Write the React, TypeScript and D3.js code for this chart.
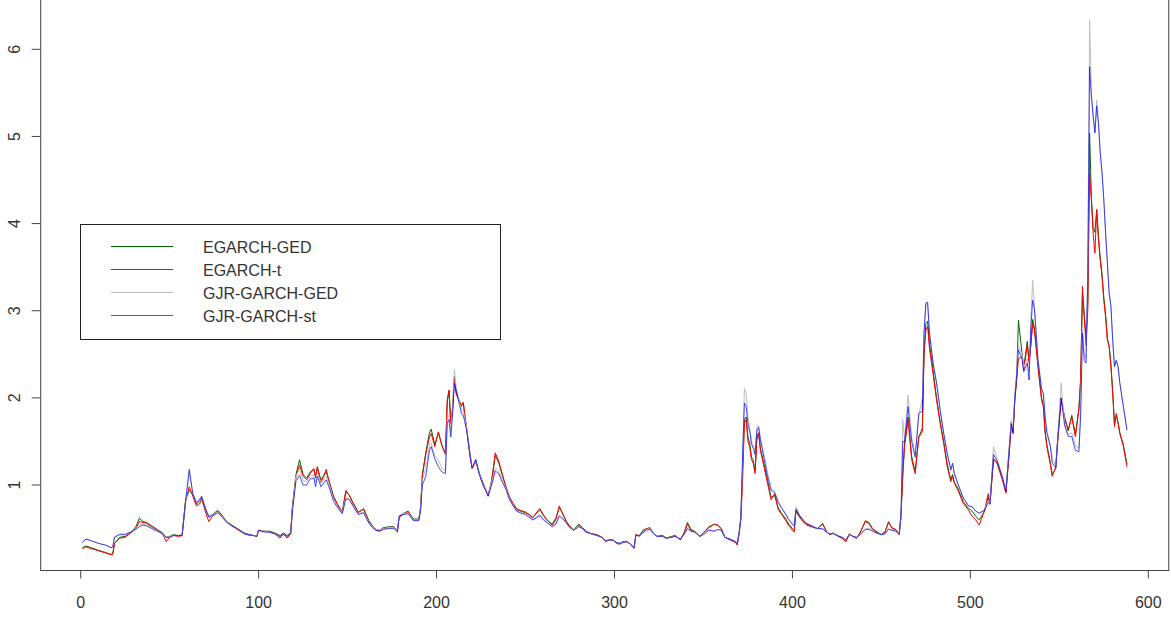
import React from "react";
import * as d3 from "d3";

const idx = [
  1,3,6,10,14,17,18,19,22,25,
  28,31,33,35,37,40,43,46,48,50,
  52,55,57,59,61,63,65,67,68,70,
  72,74,77,80,82,85,88,92,95,97,
  99,100,103,106,109,112,114,116,118,119,
  121,123,125,127,129,131,132,133,135,138,
  140,142,144,147,149,151,153,156,159,162,
  164,166,168,170,173,176,178,179,181,184,
  187,190,191,192,194,196,197,199,201,203,
  205,206,207,208,209,210,211,212,214,215,
  217,219,220,222,224,226,228,229,231,233,
  235,237,239,241,243,245,247,250,252,254,
  256,258,260,262,265,267,269,271,273,275,
  277,280,282,284,287,290,293,295,297,299,
  301,303,305,307,309,311,312,314,316,318,
  320,322,324,327,329,332,334,337,339,341,
  343,345,348,350,353,356,358,360,362,365,
  368,369,370,371,372,373,374,375,376,377,
  378,379,380,381,382,384,386,388,390,392,
  394,396,398,400,401,402,404,406,408,411,
  414,417,419,421,423,426,428,430,432,434,
  436,438,441,443,445,447,450,452,454,456,
  458,460,461,462,463,465,467,469,471,473,
  474,475,476,477,479,481,483,485,487,489,
  490,491,493,496,499,501,503,505,508,510,
  511,513,515,518,520,522,523,524,525,526,
  527,529,530,532,533,534,535,536,538,540,
  541,542,543,545,546,548,549,551,553,555,
  557,559,561,562,563,564,565,566,567,568,
  569,570,571,572,573,574,575,576,577,578,
  579,580,581,582,583,584,586,588,
];

const egarchT = [
  .27,.29,.27,.245,.22,.20,.20,.33,.39,.40,
  .45,.50,.58,.57,.56,.52,.48,.44,.35,.40,
  .42,.41,.42,.83,.98,.87,.76,.79,.84,.70,
  .58,.64,.70,.63,.58,.53,.49,.44,.42,.42,
  .41,.48,.47,.46,.44,.39,.44,.39,.44,.75,
  1.10,1.23,1.10,1.06,1.13,1.19,1.08,1.21,1.02,1.18,
  1.00,.86,.79,.68,.94,.88,.79,.68,.73,.58,
  .52,.48,.47,.50,.51,.52,.47,.63,.66,.69,
  .60,.60,.72,1.10,1.36,1.55,1.59,1.44,1.61,1.45,
  1.35,1.98,2.09,1.70,1.85,2.20,2.05,2.00,1.90,1.95,
  1.62,1.30,1.19,1.27,1.13,1.02,.92,.88,1.06,1.37,
  1.27,1.12,.98,.86,.79,.73,.71,.69,.66,.62,
  .68,.73,.66,.60,.54,.60,.76,.66,.58,.52,
  .48,.54,.50,.46,.44,.43,.40,.35,.37,.37,
  .33,.32,.35,.35,.32,.27,.43,.41,.47,.50,
  .50,.44,.41,.42,.39,.40,.42,.37,.45,.55,
  .48,.46,.41,.45,.51,.55,.54,.50,.40,.37,
  .34,.31,.44,.60,1.05,1.71,1.75,1.50,1.44,1.29,
  1.25,1.13,1.52,1.59,1.40,1.21,1.02,.83,.90,.72,
  .66,.60,.53,.48,.46,.72,.64,.58,.54,.52,
  .50,.56,.47,.43,.45,.41,.39,.35,.44,.41,
  .39,.45,.58,.56,.49,.46,.43,.46,.58,.50,
  .49,.43,.64,1.10,1.44,1.75,1.29,1.13,1.55,1.61,
  2.50,2.78,2.82,2.57,2.28,1.975,1.71,1.48,1.21,1.04,
  1.10,1.02,.94,.79,.71,.64,.60,.54,.71,.90,
  .79,1.29,1.25,1.06,.905,1.40,1.71,1.59,1.975,2.20,
  2.45,2.47,2.32,2.61,2.40,2.60,2.85,2.78,2.36,1.975,
  1.90,1.60,1.44,1.23,1.10,1.21,1.48,1.975,1.78,1.63,
  1.78,1.555,1.86,2.24,3.28,2.93,2.60,3.01,4.58,4.27,
  3.89,3.66,4.16,3.81,3.58,3.39,3.12,2.93,2.66,2.59,
  2.36,2.05,1.67,1.82,1.71,1.59,1.44,1.21,
];

const egarchGed = [
  .28,.30,.28,.25,.225,.205,.21,.33,.40,.41,
  .45,.52,.62,.58,.57,.53,.49,.45,.40,.41,
  .43,.42,.43,.83,.94,.89,.78,.82,.86,.74,
  .64,.66,.71,.64,.58,.54,.50,.45,.43,.42,
  .42,.48,.47,.47,.45,.42,.45,.42,.45,.75,
  1.12,1.29,1.12,1.08,1.15,1.18,1.10,1.20,1.06,1.15,
  1.02,.88,.79,.69,.92,.88,.80,.69,.72,.59,
  .53,.49,.48,.51,.52,.52,.47,.64,.67,.70,
  .61,.61,.74,1.12,1.38,1.60,1.64,1.46,1.60,1.46,
  1.36,1.95,2.08,1.72,1.88,2.25,2.07,2.00,1.92,1.94,
  1.63,1.32,1.20,1.29,1.14,1.03,.93,.87,1.04,1.34,
  1.25,1.11,.97,.86,.78,.72,.70,.68,.66,.63,
  .67,.72,.65,.60,.55,.62,.74,.67,.58,.52,
  .49,.55,.51,.47,.44,.43,.40,.36,.37,.37,
  .34,.33,.35,.35,.32,.28,.43,.42,.48,.50,
  .51,.44,.41,.42,.39,.41,.42,.37,.44,.57,
  .49,.47,.41,.45,.52,.55,.54,.50,.40,.37,
  .35,.32,.44,.62,1.21,1.75,1.78,1.55,1.48,1.32,
  1.28,1.16,1.55,1.60,1.42,1.24,1.05,.86,.88,.74,
  .67,.62,.55,.50,.48,.70,.63,.58,.55,.52,
  .50,.55,.47,.43,.45,.41,.39,.35,.44,.41,
  .39,.45,.59,.57,.50,.47,.43,.46,.57,.51,
  .49,.43,.64,1.12,1.48,1.78,1.33,1.15,1.55,1.65,
  2.55,2.85,2.88,2.62,2.32,2.00,1.73,1.50,1.24,1.06,
  1.12,1.03,.96,.81,.73,.70,.64,.60,.70,.86,
  .78,1.30,1.26,1.07,.92,1.45,1.72,1.62,2.00,2.22,
  2.89,2.52,2.35,2.65,2.42,2.62,2.90,2.80,2.38,2.00,
  1.92,1.62,1.46,1.25,1.12,1.19,1.50,2.00,1.76,1.62,
  1.80,1.58,1.88,2.20,3.20,2.95,2.70,3.10,5.04,4.30,
  3.95,3.90,4.16,3.85,3.60,3.42,3.15,2.95,2.68,2.60,
  2.38,2.08,1.70,1.80,1.72,1.60,1.46,1.24,
];

const gjrGed = [
  .35,.38,.36,.33,.31,.285,.29,.41,.44,.44,
  .46,.50,.54,.55,.54,.51,.475,.44,.40,.41,
  .42,.42,.43,.80,1.15,.90,.80,.83,.87,.74,
  .64,.66,.69,.63,.58,.53,.50,.44,.43,.42,
  .42,.49,.47,.46,.44,.41,.43,.41,.44,.72,
  1.10,1.18,1.05,1.04,1.10,1.12,1.03,1.14,1.02,1.10,
  .98,.84,.76,.68,.86,.84,.77,.67,.69,.57,
  .52,.49,.48,.50,.51,.51,.47,.65,.67,.68,
  .60,.60,.72,1.05,1.20,1.45,1.48,1.33,1.28,1.20,
  1.16,1.75,1.80,1.62,1.90,2.33,2.12,2.03,1.86,1.85,
  1.65,1.34,1.21,1.28,1.13,1.01,.93,.89,1.03,1.19,
  1.16,1.05,.96,.84,.77,.70,.69,.67,.64,.60,
  .63,.66,.61,.58,.52,.56,.66,.62,.56,.51,
  .49,.53,.50,.46,.44,.42,.40,.36,.37,.37,
  .34,.33,.34,.35,.32,.28,.42,.42,.46,.49,
  .50,.44,.41,.41,.39,.40,.41,.38,.43,.50,
  .47,.46,.41,.44,.49,.47,.49,.48,.40,.38,
  .35,.33,.45,.63,1.30,2.11,2.05,1.78,1.65,1.50,
  1.45,1.38,1.67,1.68,1.55,1.35,1.15,.96,.93,.82,
  .74,.68,.61,.55,.53,.75,.66,.60,.56,.53,
  .50,.49,.46,.44,.45,.42,.40,.37,.44,.41,
  .40,.43,.50,.50,.48,.45,.43,.44,.50,.48,
  .47,.44,.66,1.75,1.52,2.03,1.55,1.35,1.80,2.00,
  2.80,3.10,3.05,2.78,2.42,2.18,1.88,1.61,1.37,1.18,
  1.24,1.14,1.02,.86,.76,.75,.70,.68,.72,.82,
  .78,1.44,1.30,1.10,.95,1.50,1.75,1.65,2.05,2.30,
  2.60,2.50,2.35,2.45,2.30,2.90,3.35,3.05,2.45,2.12,
  2.05,1.80,1.62,1.45,1.30,1.22,1.52,2.17,1.70,1.58,
  1.60,1.45,1.42,1.90,2.80,2.50,2.45,3.50,6.34,5.50,
  5.25,5.05,5.42,5.15,4.82,4.58,4.28,3.90,3.55,3.22,
  3.05,2.66,2.36,2.43,2.36,2.17,1.90,1.63,
];

const gjrSt = [
  .34,.38,.36,.33,.31,.28,.29,.40,.43,.43,
  .46,.49,.52,.54,.53,.50,.47,.44,.40,.40,
  .42,.42,.42,.82,1.18,.90,.80,.84,.87,.73,
  .63,.65,.68,.62,.57,.53,.50,.44,.43,.42,
  .41,.48,.46,.46,.44,.41,.43,.41,.44,.70,
  1.05,1.11,1.00,1.00,1.07,1.08,.98,1.10,.98,1.06,
  .95,.82,.75,.67,.84,.83,.76,.66,.68,.56,
  .51,.48,.47,.49,.50,.50,.46,.64,.66,.67,
  .59,.59,.70,1.00,1.10,1.40,1.44,1.30,1.21,1.15,
  1.13,1.71,1.75,1.55,1.80,2.17,2.09,2.00,1.82,1.80,
  1.62,1.32,1.19,1.29,1.12,1.00,.92,.88,1.00,1.16,
  1.13,1.03,.95,.83,.76,.70,.68,.66,.63,.60,
  .62,.65,.60,.57,.52,.55,.64,.61,.56,.51,
  .48,.52,.50,.46,.44,.42,.40,.36,.37,.37,
  .34,.33,.34,.35,.32,.28,.42,.42,.45,.48,
  .49,.44,.41,.41,.39,.40,.41,.38,.43,.50,
  .47,.46,.41,.43,.48,.47,.49,.48,.40,.38,
  .35,.33,.45,.62,1.345,1.94,1.90,1.70,1.62,1.47,
  1.42,1.35,1.62,1.66,1.52,1.31,1.10,.94,.91,.80,
  .73,.67,.60,.55,.53,.72,.65,.60,.56,.53,
  .50,.50,.46,.44,.44,.41,.40,.37,.43,.41,
  .40,.43,.49,.49,.47,.45,.43,.44,.49,.48,
  .47,.44,.66,1.50,1.50,1.90,1.50,1.32,1.82,1.85,
  2.75,3.08,3.10,2.74,2.40,2.17,1.86,1.59,1.36,1.17,
  1.25,1.13,1.01,.85,.76,.75,.70,.675,.71,.80,
  .78,1.35,1.28,1.09,.93,1.45,1.70,1.60,2.00,2.25,
  2.55,2.45,2.30,2.40,2.205,2.80,3.12,3.02,2.43,2.10,
  2.05,1.78,1.60,1.44,1.25,1.20,1.50,2.00,1.68,1.56,
  1.555,1.40,1.38,1.80,2.74,2.43,2.40,3.43,5.80,5.46,
  5.23,5.04,5.35,5.15,4.81,4.58,4.27,3.89,3.55,3.20,
  3.05,2.66,2.36,2.43,2.36,2.17,1.90,1.63,
];

const seriesNames = ["EGARCH-GED", "EGARCH-t", "GJR-GARCH-GED", "GJR-GARCH-st"];
const seriesColors = ["#006400", "#FF0000", "#BEBEBE", "#0000FF"];
const seriesOpacity = [1, 1, 1, 0.7];
const xTicks = [0, 100, 200, 300, 400, 500, 600];
const yTicks = [1, 2, 3, 4, 5, 6];

const W = 1171;
const H = 617;

export default function App() {
  const x = d3.scaleLinear().domain([0, 600]).range([80.7, 1148.3]);
  const y = d3.scaleLinear().domain([1, 6]).range([485, 49.3]);
  const xLeft = x(-22.48);
  const xRight = x(611.48);
  const yBottom = 570.5;
  const yTop = -5;

  const allSeries = [egarchGed, egarchT, gjrGed, gjrSt];
  const line = d3
    .line<number>()
    .x((_, i) => x(idx[i]))
    .y((d) => y(d));

  const font = "'Liberation Sans', Arial, Helvetica, sans-serif";
  const axisColor = "#444";

  const legX = 80.5, legY = 224.5, legW = 420, legH = 115;
  const rowY = [246.5, 269.5, 292.5, 315.5];

  return (
    <svg
      width={W}
      height={H}
      style={{ position: "absolute", left: 0, top: 0, background: "#fff" }}
      fontFamily={font}
    >
      <rect x={0} y={0} width={W} height={H} fill="#fff" />
      {allSeries.map((s, k) => (
        <path
          key={k}
          d={line(s.slice(0, idx.length)) || ""}
          fill="none"
          stroke={seriesColors[k]}
          strokeOpacity={seriesOpacity[k]}
          strokeWidth={1}
          strokeLinejoin="round"
        />
      ))}
      <rect
        x={xLeft}
        y={yTop}
        width={xRight - xLeft}
        height={yBottom - yTop}
        fill="none"
        stroke={axisColor}
        strokeWidth={1}
      />
      {xTicks.map((t) => (
        <g key={"x" + t}>
          <line x1={x(t)} x2={x(t)} y1={yBottom} y2={yBottom + 8} stroke={axisColor} />
          <text x={x(t)} y={608} textAnchor="middle" fontSize={16} fill="#333">
            {t}
          </text>
        </g>
      ))}
      {yTicks.map((t) => (
        <g key={"y" + t}>
          <line x1={xLeft - 9} x2={xLeft} y1={y(t)} y2={y(t)} stroke={axisColor} />
          <text
            transform={`translate(20,${y(t)}) rotate(-90)`}
            textAnchor="middle"
            fontSize={16}
            fill="#333"
          >
            {t}
          </text>
        </g>
      ))}
      <rect x={legX} y={legY} width={legW} height={legH} fill="#fff" stroke="#222" strokeWidth={1} />
      {seriesNames.map((n, k) => (
        <g key={n}>
          <line
            x1={111}
            x2={173}
            y1={rowY[k]}
            y2={rowY[k]}
            stroke={seriesColors[k]}
            strokeOpacity={seriesOpacity[k]}
            strokeWidth={1}
          />
          <text x={203} y={rowY[k] + 6} fontSize={16} fill="#333">
            {n}
          </text>
        </g>
      ))}
    </svg>
  );
}
